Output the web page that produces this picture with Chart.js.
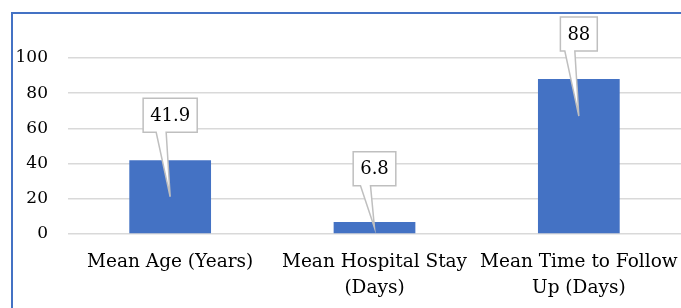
<!DOCTYPE html>
<html>
<head>
<meta charset="utf-8">
<script src="https://cdn.jsdelivr.net/npm/chart.js@4"></script>
<style>
  html, body { margin: 0; padding: 0; background: #fff; overflow: hidden; }
  #wrap { position: absolute; left: 0; top: 0; width: 681px; height: 308px; }
</style>
</head>
<body>
<div id="wrap"><canvas id="grafico"></canvas></div>
<script>
// Datos del gráfico
const categorias = [
  'Mean Age (Years)',
  ['Mean Hospital Stay', '(Days)'],
  ['Mean Time to Follow', 'Up (Days)']
];
const valores = [41.9, 6.8, 88];
const etiquetasValor = ['41.9', '6.8', '88'];

const fuente = 'DejaVu Serif';

// Marco azul (bordes superior e izquierdo)
const marcoPlugin = {
  id: 'marco',
  beforeDraw(chart) {
    const ctx = chart.ctx;
    ctx.save();
    ctx.fillStyle = '#4472C4';
    ctx.fillRect(11, 12, 2, chart.height - 12);
    ctx.fillRect(11, 12, chart.width - 11, 2);
    ctx.restore();
  }
};

// Etiquetas tipo "callout" sobre cada barra
const calloutPlugin = {
  id: 'callout',
  afterDatasetsDraw(chart) {
    const ctx = chart.ctx;
    const meta = chart.getDatasetMeta(0);
    ctx.save();
    ctx.font = '18px "' + fuente + '"';
    meta.data.forEach((bar, i) => {
      const texto = etiquetasValor[i];
      const w = ctx.measureText(texto).width + 14;
      const h = 34;
      const cx = bar.x;
      const tipY = Math.min(bar.y + 37, (bar.y + bar.base) / 2);
      const bottom = Math.min(bar.y - 28, tipY - 42);
      const left = cx - w / 2;
      const top = bottom - h;
      ctx.beginPath();
      ctx.moveTo(left, top);
      ctx.lineTo(left + w, top);
      ctx.lineTo(left + w, bottom);
      ctx.lineTo(cx - 4, bottom);
      ctx.lineTo(cx, tipY);
      ctx.lineTo(cx - 14, bottom);
      ctx.lineTo(left, bottom);
      ctx.closePath();
      ctx.fillStyle = '#ffffff';
      ctx.fill();
      ctx.strokeStyle = '#bfbfbf';
      ctx.lineWidth = 1.5;
      ctx.stroke();
      ctx.fillStyle = '#000000';
      ctx.textAlign = 'center';
      ctx.textBaseline = 'middle';
      ctx.fillText(texto, cx, top + h / 2 + 1);
    });
    ctx.restore();
  }
};

new Chart(document.getElementById('grafico'), {
  type: 'bar',
  data: {
    labels: categorias,
    datasets: [{
      data: valores,
      backgroundColor: '#4472C4',
      categoryPercentage: 1,
      barPercentage: 0.4
    }]
  },
  options: {
    responsive: true,
    maintainAspectRatio: false,
    animation: false,
    layout: { padding: { top: 58, left: 16, right: 0, bottom: 0 } },
    plugins: { legend: { display: false }, tooltip: { enabled: false } },
    scales: {
      x: {
        grid: { display: false, drawTicks: false },
        border: { display: false },
        afterFit(scale) {
          scale.height = 74;
          scale.paddingLeft = 0;
          scale.paddingRight = 0;
        },
        ticks: {
          color: '#000',
          padding: 15,
          maxRotation: 0,
          autoSkip: false,
          font: { family: fuente, size: 18.5, lineHeight: 1.4 }
        }
      },
      y: {
        min: 0,
        max: 100,
        grid: { color: '#d9d9d9', lineWidth: 1.5, drawTicks: false },
        border: { display: false },
        afterFit(scale) {
          scale.width = 52;
        },
        ticks: {
          stepSize: 20,
          color: '#000',
          padding: 20,
          font: { family: fuente, size: 17 }
        }
      }
    }
  },
  plugins: [marcoPlugin, calloutPlugin]
});
</script>
</body>
</html>
